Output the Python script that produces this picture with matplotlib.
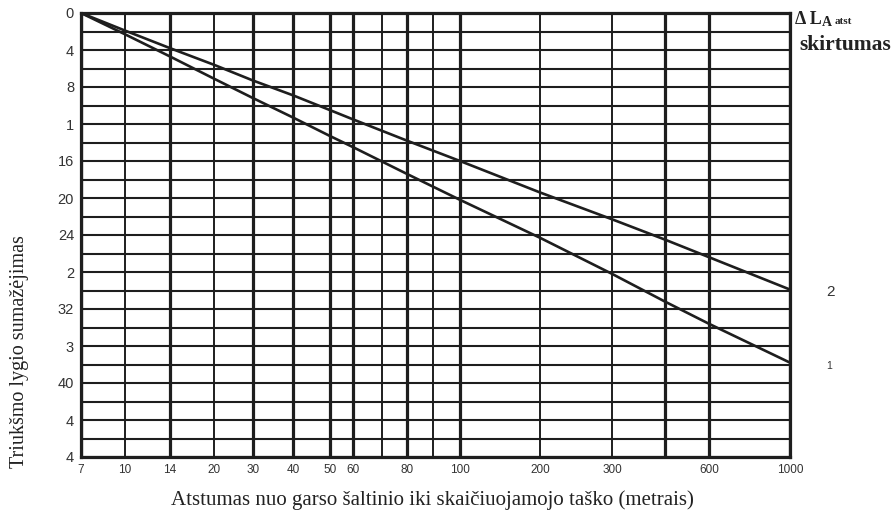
import numpy as np
import matplotlib
matplotlib.use("Agg")
import matplotlib.pyplot as plt
from matplotlib.ticker import FixedLocator, NullLocator

# ---- data ----
distances = [7, 10, 14, 20, 30, 40, 50, 60, 80, 100, 200, 300, 400, 600, 1000]
curve_2 = [0, 1.9, 3.8, 5.6, 7.3, 8.9, 10.5, 11.5, 13.8, 16.0, 19.4, 22.3, 24.5, 26.4, 29.9]
curve_1 = [0, 2.3, 4.7, 7.1, 9.2, 11.3, 13.3, 14.5, 17.4, 20.2, 24.3, 28.2, 31.2, 33.6, 37.8]

x_tick_values = [7, 10, 14, 20, 30, 40, 50, 60, 80, 100, 200, 300, 600, 1000]
x_tick_labels = ["7", "10", "14", "20", "30", "40", "50", "60", "80", "100", "200", "300", "600", "1000"]
y_tick_values = [0, 4, 8, 12, 16, 20, 24, 28, 32, 36, 40, 44, 48]
y_tick_labels = ["0", "4", "8", "1", "16", "20", "24", "2", "32", "3", "40", "4", "4"]

# vertical grid of the printed (hand-drawn, roughly logarithmic) chart
grid_values = [7, 10, 14, 20, 30, 40, 50, 60, 70, 80, 90, 100, 200, 300, 400, 600, 1000]
grid_thick = [1, 0, 1, 0, 1, 1, 1, 1, 0, 1, 0, 1, 0, 0, 1, 1, 1]
# relative spacing of those grid lines along the axis (layout of the printed grid)
grid_frac = np.array([0, 44, 89, 133, 172, 212, 249, 272, 301, 326, 352, 379, 459, 531, 584, 628, 709]) / 709.0
_lv = np.log10(grid_values)


def fwd(x):
    x = np.asarray(x, dtype=float)
    lx = np.log10(np.clip(x, 1e-6, None))
    return np.interp(lx, _lv, grid_frac)


def inv(y):
    y = np.asarray(y, dtype=float)
    return 10 ** np.interp(y, grid_frac, _lv)


W, H = 895, 520
fig = plt.figure(figsize=(W / 100, H / 100), dpi=100)
ax = fig.add_axes([81 / W, 1 - 457 / H, (790 - 81) / W, (457 - 13) / H])
ax.set_xscale("function", functions=(fwd, inv))
ax.set_xlim(7, 1000)
ax.set_ylim(48, 0)

ink = "#1e1e1e"
for v in range(0, 49, 2):
    ax.axhline(v, color=ink, lw=1.5, zorder=1)
for v, t in zip(grid_values, grid_thick):
    ax.axvline(v, color=ink, lw=2.3 if t else 1.4, zorder=1)

ax.plot(distances, curve_2, color=ink, lw=1.9, zorder=3, solid_capstyle="round")
ax.plot(distances, curve_1, color=ink, lw=1.9, zorder=3, solid_capstyle="round")

for s in ax.spines.values():
    s.set_linewidth(2.3)
    s.set_color(ink)

ax.xaxis.set_major_locator(FixedLocator(x_tick_values))
ax.xaxis.set_minor_locator(NullLocator())
ax.set_xticklabels(x_tick_labels)
ax.set_yticks(y_tick_values)
ax.set_yticklabels(y_tick_labels)
ax.yaxis.set_minor_locator(NullLocator())
ax.tick_params(axis="x", length=0, pad=5, labelsize=8.5, labelcolor="#333333")
ax.tick_params(axis="y", length=0, pad=5, labelsize=10.5, labelcolor="#333333")
for lab in ax.get_xticklabels() + ax.get_yticklabels():
    lab.set_family("Liberation Sans")

serif = "Liberation Serif"
fig.text(432 / W, 1 - 500 / H, "Atstumas nuo garso šaltinio iki skaičiuojamojo taško (metrais)",
         ha="center", va="center", fontsize=15, family=serif, color="#222222")
fig.text(20 / W, 1 - 352 / H, "Triukšmo lygio sumažėjimas", ha="center", va="center",
         rotation=90, fontsize=14.5, family=serif, color="#222222")

fig.text(795 / W, 1 - 19 / H, "Δ L", ha="left", va="center", fontsize=13,
         family=serif, fontweight="bold", color="#222222")
fig.text(822 / W, 1 - 22 / H, "A", ha="left", va="center", fontsize=10,
         family=serif, fontweight="bold", color="#222222")
fig.text(835 / W, 1 - 21 / H, "atst", ha="left", va="center", fontsize=8,
         family=serif, fontweight="bold", color="#222222")
fig.text(799 / W, 1 - 45 / H, "skirtumas", ha="left", va="center", fontsize=15.5,
         family=serif, fontweight="bold", color="#222222")

fig.text(826 / W, 1 - 292 / H, "2", ha="left", va="center", fontsize=11,
         family="Liberation Sans", color="#333333")
fig.text(826 / W, 1 - 366 / H, "1", ha="left", va="center", fontsize=7.5,
         family="Liberation Sans", color="#333333")

fig.savefig("out.png", dpi=100, facecolor="white")
